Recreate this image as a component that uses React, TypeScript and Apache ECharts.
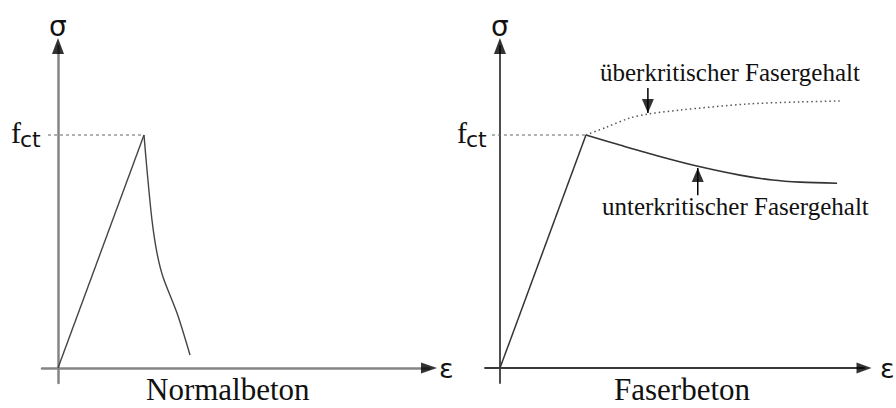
import React, { useEffect, useRef } from 'react';
import * as echarts from 'echarts';

// ---- data (σ normalised to f_ct = 1, ε in arbitrary units, peak at ε = 1) ----
const FCT = 1;
const normalRiseStrain = [0, 1.0];
const normalRiseStress = [0, 1.0];
const normalSoftStrain = [1.0, 1.035, 1.093, 1.151, 1.221, 1.384, 1.535];
const normalSoftStress = [1.0, 0.85, 0.635, 0.494, 0.391, 0.236, 0.056];

const fiberRiseStrain = [0, 1.0];
const fiberRiseStress = [0, 1.0];
const subStrain = [1.0, 1.395, 1.86, 2.29, 2.79, 3.17, 3.49, 3.92];
const subStress = [1.0, 0.957, 0.908, 0.867, 0.828, 0.807, 0.798, 0.793];
const superStrain = [1.0, 1.24, 1.51, 1.72, 2.09, 2.87, 3.49, 3.95];
const superStress = [1.0, 1.034, 1.073, 1.09, 1.107, 1.133, 1.142, 1.146];

const fctLineLeftStrain = [-0.116, 1.0];
const fctLineRightStrain = [-0.093, 1.0];

const superArrowStrain = [1.72, 1.72];
const superArrowStress = [1.202, 1.094];
const subArrowStrain = [2.3, 2.3];
const subArrowStress = [0.742, 0.858];

const leftXRange = [-0.186, 4.314];
const rightXRange = [-0.174, 4.233];
const yRange = [-0.064, 1.382];

const labelSuper = 'überkritischer Fasergehalt';
const labelSub = 'unterkritischer Fasergehalt';
const titleLeft = 'Normalbeton';
const titleRight = 'Faserbeton';
const axisX = 'ε';
const axisY = 'σ';
const fctMain = 'f';
const fctSub = 'ct';

const zip = (a: number[], b: number[]) => a.map((v, i) => [v, b[i]]);

const SERIF = '"Liberation Serif", "Times New Roman", serif';
const SANS = '"DejaVu Sans", sans-serif';

function makeXAxis(idx: number, range: number[], color: string, width: number, gap: number) {
  return {
    gridIndex: idx,
    type: 'value',
    min: range[0],
    max: range[1],
    axisLine: { show: true, onZero: true, lineStyle: { color, width } },
    axisTick: { show: false },
    axisLabel: { show: false },
    splitLine: { show: false },
    name: axisX,
    nameLocation: 'end',
    nameGap: gap,
    nameTextStyle: { fontFamily: SANS, fontSize: 27, color: '#111' },
  };
}

function makeYAxis(idx: number, color: string, width: number) {
  return {
    gridIndex: idx,
    type: 'value',
    min: yRange[0],
    max: yRange[1],
    axisLine: { show: true, onZero: true, lineStyle: { color, width } },
    axisTick: { show: false },
    splitLine: { show: false },
    axisLabel: { show: false },
    name: axisY,
    nameLocation: 'end',
    nameGap: 6,
    nameTextStyle: { fontFamily: SANS, fontSize: 28, color: '#111' },
  };
}

function lineSeries(idx: number, data: number[][], color: string, width: number, type: any = 'solid', smooth: any = false) {
  return {
    type: 'line',
    xAxisIndex: idx,
    yAxisIndex: idx,
    data,
    smooth,
    symbol: 'none',
    showSymbol: false,
    silent: true,
    lineStyle: { color, width, type },
  };
}

function arrowSeries(idx: number, point: number[], rotate: number, size: number[], offset: number[]) {
  return {
    type: 'scatter',
    xAxisIndex: idx,
    yAxisIndex: idx,
    data: [point],
    symbol: 'triangle',
    symbolSize: size,
    symbolRotate: rotate,
    symbolOffset: offset,
    clip: false,
    silent: true,
    z: 5,
    itemStyle: { color: '#000' },
  };
}

function fctLabel(x: number) {
  return [
    { type: 'text', x, y: 132, style: { text: fctMain, font: `30px ${SERIF}`, fill: '#111', verticalAlign: 'middle' } },
    { type: 'text', x: x + 9, y: 139.5, style: { text: fctSub, font: `22px ${SANS}`, fill: '#111', verticalAlign: 'middle' } },
  ];
}

export default function App() {
  const ref = useRef<HTMLDivElement>(null);
  useEffect(() => {
    if (!ref.current) return;
    const chart = echarts.init(ref.current, undefined, { renderer: 'svg' });
    chart.setOption({
      animation: false,
      backgroundColor: '#fff',
      grid: [
        { left: 42, top: 46, width: 387, height: 337, containLabel: false, outerBoundsMode: 'none' },
        { left: 485, top: 46, width: 379, height: 337, containLabel: false, outerBoundsMode: 'none' },
      ],
      xAxis: [
        makeXAxis(0, leftXRange, '#858585', 2.5, 10),
        makeXAxis(1, rightXRange, '#3a3a3a', 1.8, 16),
      ],
      yAxis: [makeYAxis(0, '#858585', 2.5), makeYAxis(1, '#3a3a3a', 1.8)],
      series: [
        lineSeries(0, zip(fctLineLeftStrain, [FCT, FCT]), '#666', 1, [3, 3]),
        lineSeries(0, zip(normalRiseStrain, normalRiseStress), '#444', 1.4),
        lineSeries(0, zip(normalSoftStrain, normalSoftStress), '#444', 1.4, 'solid', 0.3),
        arrowSeries(0, [leftXRange[1], 0], -90, [11, 16], [0, 0]),
        arrowSeries(0, [0, yRange[1]], 0, [12, 16], [0, 0]),

        lineSeries(1, zip(fctLineRightStrain, [FCT, FCT]), '#666', 1, [3, 3]),
        lineSeries(1, zip(fiberRiseStrain, fiberRiseStress), '#333', 1.5),
        lineSeries(1, zip(subStrain, subStress), '#333', 1.6, 'solid', 0.3),
        lineSeries(1, zip(superStrain, superStress), '#555', 1.5, [1.5, 3], 0.3),
        lineSeries(1, zip(superArrowStrain, superArrowStress), '#000', 1.5),
        lineSeries(1, zip(subArrowStrain, subArrowStress), '#000', 1.5),
        arrowSeries(1, [superArrowStrain[1], superArrowStress[1]], 180, [12, 14], [0, -7]),
        arrowSeries(1, [subArrowStrain[1], subArrowStress[1]], 0, [12, 14], [0, 7]),
        arrowSeries(1, [rightXRange[1], 0], -90, [11, 15], [0, 0]),
        arrowSeries(1, [0, yRange[1]], 0, [12, 16], [0, 0]),
      ],
      graphic: [
        ...fctLabel(11),
        ...fctLabel(457),
        { type: 'text', x: 600, y: 72.6, style: { text: labelSuper, font: `25px ${SERIF}`, fill: '#111', verticalAlign: 'middle' } },
        { type: 'text', x: 602, y: 206.6, style: { text: labelSub, font: `25px ${SERIF}`, fill: '#111', verticalAlign: 'middle' } },
        { type: 'text', x: 146, y: 389.5, style: { text: titleLeft, font: `31px ${SERIF}`, fill: '#111', verticalAlign: 'middle' } },
        { type: 'text', x: 614, y: 389.5, style: { text: titleRight, font: `31px ${SERIF}`, fill: '#111', verticalAlign: 'middle' } },
      ],
    });
    return () => chart.dispose();
  }, []);
  return <div ref={ref} style={{ position: 'fixed', left: 0, top: 0, width: 896, height: 408 }} />;
}
